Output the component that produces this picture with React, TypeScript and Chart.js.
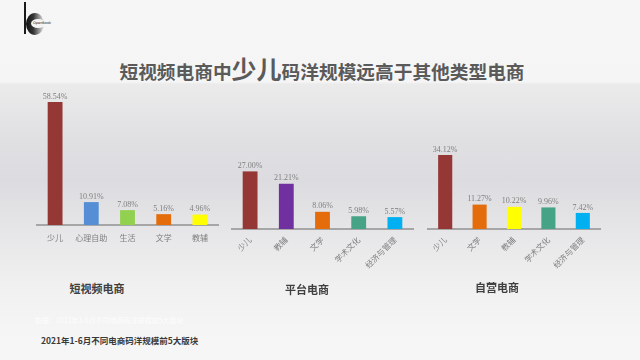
import React, { useEffect, useRef } from "react";
import { Chart, registerables } from "chart.js";

Chart.register(...registerables);

// ---- data ----
const shortVideoCategories = ["少儿", "心理自助", "生活", "文学", "教辅"];
const shortVideoValues = [58.54, 10.91, 7.08, 5.16, 4.96];
const shortVideoColors = ["#953735", "#558ed5", "#92d050", "#e46c0a", "#ffff00"];

const platformCategories = ["少儿", "教辅", "文学", "学术文化", "经济与管理"];
const platformValues = [27.0, 21.21, 8.06, 5.98, 5.57];
const platformColors = ["#953735", "#7030a0", "#e46c0a", "#46a385", "#00b0f0"];

const selfRunCategories = ["少儿", "文学", "教辅", "学术文化", "经济与管理"];
const selfRunValues = [34.12, 11.27, 10.22, 9.96, 7.42];
const selfRunColors = ["#953735", "#e46c0a", "#ffff00", "#46a385", "#00b0f0"];

const groupTitles = ["短视频电商", "平台电商", "自营电商"];
const titleBefore = "短视频电商中";
const titleEmph = "少儿";
const titleAfter = "码洋规模远高于其他类型电商";
const sourceNote = "2021年1-6月不同电商码洋规模前5大版块";
const faintNote = "数据：2021年1-6月不同电商码洋规模前5大版块";

const CJK = "'Noto Sans CJK SC', 'Noto Sans', sans-serif";

const valueLabelPlugin = {
  id: "valueLabels",
  afterDatasetsDraw(chart: any) {
    const ctx = chart.ctx;
    const meta = chart.getDatasetMeta(0);
    const ds = chart.data.datasets[0];
    ctx.save();
    ctx.font = "8px 'Liberation Serif', 'Times New Roman', serif";
    ctx.fillStyle = "#7f7f7f";
    ctx.textAlign = "center";
    ctx.textBaseline = "bottom";
    meta.data.forEach((el: any, i: number) => {
      ctx.fillText(Number(ds.data[i]).toFixed(2) + "%", el.x, el.y - 1.5);
    });
    ctx.restore();
  },
};

type PanelProps = {
  categories: string[];
  values: number[];
  colors: string[];
  left: number;
  top: number;
  width: number;
  height: number;
  pad: { left: number; right: number; top: number };
  axisHeight: number;
  max: number;
  rotate: boolean;
  barPct: number;
  tickPad: number;
};

function BarPanel(p: PanelProps) {
  const ref = useRef<HTMLCanvasElement | null>(null);
  useEffect(() => {
    if (!ref.current) return;
    const chart = new Chart(ref.current, {
      type: "bar",
      data: {
        labels: p.categories,
        datasets: [
          {
            data: p.values,
            backgroundColor: p.colors,
            borderWidth: 0,
            categoryPercentage: 1,
            barPercentage: p.barPct,
          },
        ],
      },
      options: {
        animation: false,
        responsive: false,
        maintainAspectRatio: false,
        devicePixelRatio: 1,
        layout: { padding: { left: p.pad.left, right: p.pad.right, top: p.pad.top, bottom: 0 } },
        plugins: { legend: { display: false }, tooltip: { enabled: false }, title: { display: false } },
        scales: {
          x: {
            grid: { display: false, drawTicks: false },
            border: { display: true, color: "#a6a6a6", width: 2 },
            ticks: {
              color: "#7f7f7f",
              font: { family: CJK, size: 8 },
              padding: p.tickPad,
              autoSkip: false,
              minRotation: p.rotate ? 45 : 0,
              maxRotation: p.rotate ? 45 : 0,
            },
            afterFit: (scale: any) => {
              scale.height = p.axisHeight;
            },
          },
          y: { display: false, min: 0, max: p.max },
        },
      },
      plugins: [valueLabelPlugin],
    } as any);
    return () => chart.destroy();
  }, []);
  return (
    <canvas
      ref={ref}
      width={p.width}
      height={p.height}
      style={{ position: "absolute", left: p.left, top: p.top, width: p.width, height: p.height }}
    />
  );
}

export default function App() {
  const groupTitleStyle = (cx: number, cy: number): React.CSSProperties => ({
    position: "absolute",
    left: cx - 60,
    top: cy - 8,
    width: 120,
    textAlign: "center",
    fontFamily: CJK,
    fontWeight: 700,
    fontSize: 11,
    lineHeight: "16px",
    color: "#404040",
  });
  return (
    <div
      style={{
        position: "fixed",
        left: 0,
        top: 0,
        width: 640,
        height: 360,
        overflow: "hidden",
        background:
          "linear-gradient(to bottom, #f6f6f6 0px, #f5f5f5 82px, #ebebeb 84px, #e0e0e3 140px, #dcdce0 180px, #e6e6e8 230px, #f1f1f1 290px, #f5f5f5 330px, #f6f6f6 360px)",
      }}
    >
      {/* logo */}
      <div style={{ position: "absolute", left: 24, top: 2, width: 1.5, height: 32, background: "#1a1a1a" }} />
      <div
        style={{
          position: "absolute",
          left: 26,
          top: 13,
          width: 18,
          height: 22,
          borderRadius: "50%",
          background: "linear-gradient(90deg, #111 0%, #333 40%, #aaa 80%, #e8e8e8 100%)",
        }}
      />
      <div
        style={{
          position: "absolute",
          left: 31,
          top: 19,
          width: 14,
          height: 9,
          borderRadius: "50%",
          background: "#f4f4f4",
        }}
      />
      <div
        style={{
          position: "absolute",
          left: 33,
          top: 21,
          fontSize: 3.5,
          lineHeight: "4px",
          fontFamily: "'DejaVu Sans', sans-serif",
          color: "#222",
          whiteSpace: "nowrap",
        }}
      >
        OpenBook
      </div>

      {/* main title */}
      <div
        style={{
          position: "absolute",
          left: 0,
          top: 52,
          width: 644,
          textAlign: "center",
          fontFamily: CJK,
          fontWeight: 700,
          color: "#5a5a5a",
          fontSize: 18.7,
          lineHeight: "32px",
          whiteSpace: "nowrap",
        }}
      >
        {titleBefore}
        <span style={{ fontSize: 25 }}>{titleEmph}</span>
        {titleAfter}
      </div>

      <BarPanel
        categories={shortVideoCategories}
        values={shortVideoValues}
        colors={shortVideoColors}
        left={20}
        top={80}
        width={210}
        height={180}
        pad={{ left: 17, right: 12, top: 19 }}
        axisHeight={35}
        max={60}
        rotate={false}
        barPct={0.41}
        tickPad={8}
      />
      <BarPanel
        categories={platformCategories}
        values={platformValues}
        colors={platformColors}
        left={225}
        top={130}
        width={200}
        height={150}
        pad={{ left: 7, right: 12, top: 35 }}
        axisHeight={51}
        max={30}
        rotate={true}
        barPct={0.41}
        tickPad={6}
      />
      <BarPanel
        categories={selfRunCategories}
        values={selfRunValues}
        colors={selfRunColors}
        left={420}
        top={120}
        width={200}
        height={160}
        pad={{ left: 8, right: 20, top: 31 }}
        axisHeight={51}
        max={36}
        rotate={true}
        barPct={0.41}
        tickPad={6}
      />

      <div style={groupTitleStyle(97, 288)}>{groupTitles[0]}</div>
      <div style={groupTitleStyle(307, 289)}>{groupTitles[1]}</div>
      <div style={groupTitleStyle(497, 287)}>{groupTitles[2]}</div>

      <div
        style={{
          position: "absolute",
          left: 35,
          top: 315,
          fontFamily: CJK,
          fontSize: 7,
          lineHeight: "10px",
          color: "rgba(255,255,255,0.85)",
          whiteSpace: "nowrap",
        }}
      >
        {faintNote}
      </div>
      <div
        style={{
          position: "absolute",
          left: 41,
          top: 334,
          fontFamily: CJK,
          fontWeight: 700,
          fontSize: 8.5,
          lineHeight: "12px",
          color: "#3a3a3a",
          whiteSpace: "nowrap",
        }}
      >
        {sourceNote}
      </div>
    </div>
  );
}
